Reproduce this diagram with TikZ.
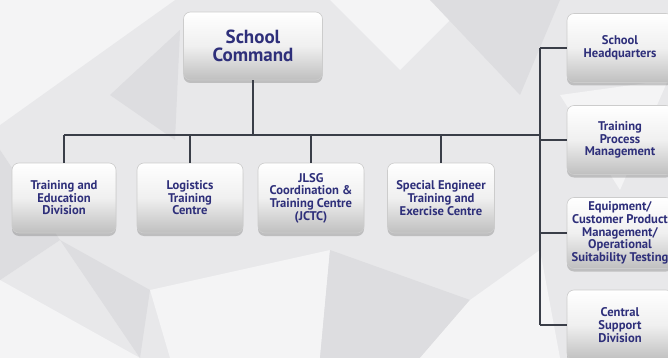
\documentclass[tikz,border=0pt]{standalone}
\usepackage{fontspec}
\setmainfont{PT Sans}
\usepackage{tikz}
\usetikzlibrary{shadows}
\definecolor{unitnavy}{RGB}{46,47,122}
\definecolor{bggray}{RGB}{232,232,234}
\definecolor{bglight}{RGB}{244,244,245}
\definecolor{bgdark}{RGB}{221,221,224}
\definecolor{linegray}{RGB}{58,62,72}

\tikzset{
  unit/.style={rectangle, rounded corners=7pt, draw=gray!40, line width=0.6pt,
    top color=white, bottom color=gray!50, middle color=gray!12,
    drop shadow={opacity=0.4, shadow xshift=0pt, shadow yshift=-3pt},
    text=unitnavy, font=\bfseries\fontsize{12.6}{12.6}\selectfont,
    align=center, inner sep=1pt, minimum height=70pt},
  link/.style={draw=linegray, line width=1.4pt}
}

\begin{document}
\begin{tikzpicture}[x=1pt,y=-1pt]
% Fix the frame and cut off what runs past it
\path[use as bounding box, clip] (0,0) rectangle (668,358);
% Draw the low-poly background
\fill[bggray] (0,0) rectangle (668,358);
\fill[bglight] (0,0) -- (175,0) -- (0,125) -- cycle;
\fill[bgdark] (110,95) -- (180,30) -- (175,140) -- cycle;
\fill[bglight] (330,0) -- (470,0) -- (400,70) -- cycle;
\fill[bgdark] (430,0) -- (560,0) -- (520,95) -- cycle;
\fill[bglight] (560,95) -- (668,80) -- (620,190) -- cycle;
\fill[bgdark] (0,150) -- (60,240) -- (0,280) -- cycle;
\fill[bglight] (0,280) -- (140,358) -- (0,358) -- cycle;
\fill[bglight] (150,290) -- (330,250) -- (320,358) -- (170,358) -- cycle;
\fill[bgdark] (330,250) -- (470,300) -- (420,358) -- (320,358) -- cycle;
\fill[bglight] (470,300) -- (540,250) -- (560,358) -- (420,358) -- cycle;
\fill[bgdark] (60,240) -- (150,290) -- (140,358) -- cycle;

% Draw the boxes
\node[unit, minimum width=139pt, minimum height=68pt,
  font=\bfseries\fontsize{19}{18.5}\selectfont] (cmd) at (253,46) {School\\Command};
\node[unit, minimum width=104pt] (ted) at (64,198) {Training and\\Education\\Division};
\node[unit, minimum width=106pt] (ltc) at (190,198) {Logistics\\Training\\Centre};
\node[unit, minimum width=106pt] (jctc) at (311,198) {JLSG\\Coordination \&\\Training Centre\\(JCTC)};
\node[unit, minimum width=107pt] (setec) at (441,198) {Special Engineer\\Training and\\Exercise Centre};
\node[unit, minimum width=106pt, minimum height=69pt] (hq) at (620,48) {School\\Headquarters};
\node[unit, minimum width=106pt, minimum height=69pt] (tpm) at (620,140) {Training\\Process\\Management};
\node[unit, minimum width=106pt, minimum height=71pt] (eqp) at (620,233) {Equipment/\\Customer Product\\Management/\\Operational\\Suitability Testing};
\node[unit, minimum width=106pt] (csd) at (620,325) {Central\\Support\\Division};

% Draw the connectors
\coordinate (busL) at (64,135);
\coordinate (busR) at (540,135);
\draw[link] (busL) -- (busR);
\draw[link] (cmd) -- (cmd |- busL);
\foreach \n in {ted,ltc,jctc,setec}
  \draw[link] (\n |- busL) -- (\n);
\draw[link] (busR |- hq) -- (busR |- csd);
\foreach \n in {hq,tpm,eqp,csd}
  \draw[link] (busR |- \n) -- (\n);
\end{tikzpicture}
\end{document}
